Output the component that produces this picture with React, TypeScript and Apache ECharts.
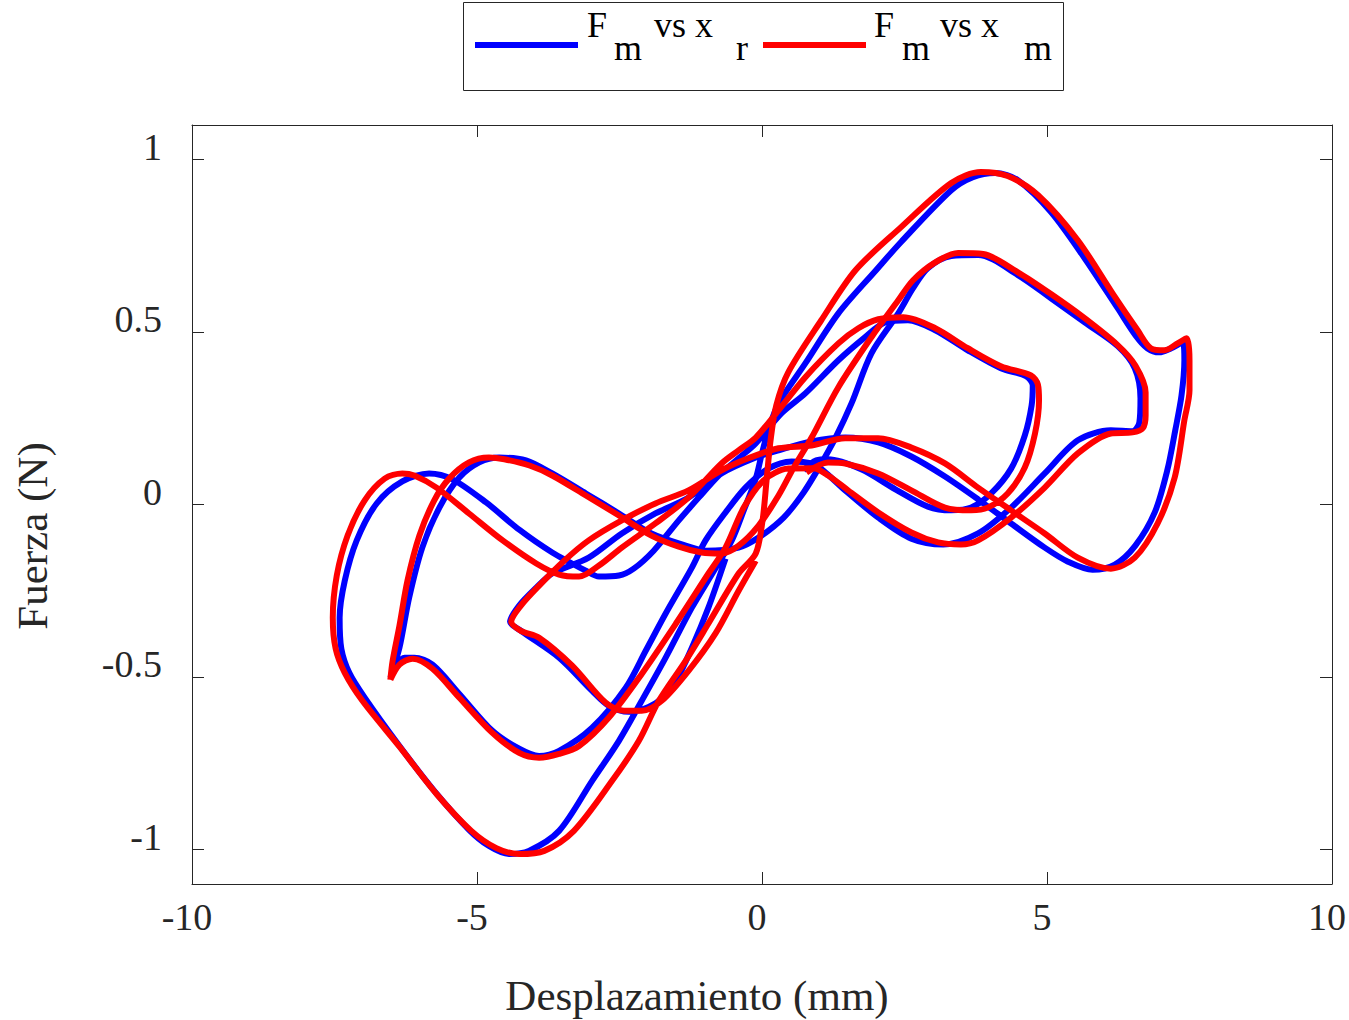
import React, { useEffect, useRef } from "react";
import * as echarts from "echarts";

// Tick values
const xTicks = [-10, -5, 0, 5, 10];
const yTicks = [-1, -0.5, 0, 0.5, 1];

// F_m vs x_r (blue) : main path (small, large cycles)
const blueMain: number[][] = [
  [0.73, 0.099], [0.95, 0.128], [1.16, 0.131], [1.74, 0.102], [2.34, 0.044], [2.91, -0.006],
  [3.32, -0.017], [3.67, -0.009], [4.02, 0.032], [4.37, 0.104], [4.61, 0.2], [4.73, 0.287],
  [4.75, 0.345], [4.63, 0.372], [4.19, 0.395], [3.61, 0.447], [3.04, 0.505], [2.56, 0.534],
  [2.16, 0.528], [1.81, 0.485], [1.34, 0.418], [0.76, 0.322], [0.34, 0.264], [-0.11, 0.177],
  [-0.41, 0.134], [-0.76, 0.084], [-1.11, 0.02], [-1.46, -0.046], [-1.9, -0.134], [-2.25, -0.186],
  [-2.51, -0.206], [-2.86, -0.209], [-3.09, -0.192], [-3.68, -0.139], [-4.26, -0.073], [-4.84, 0.006],
  [-5.43, 0.073], [-5.84, 0.09], [-6.31, 0.067], [-6.76, 0.003], [-7.11, -0.104], [-7.32, -0.221],
  [-7.41, -0.328], [-7.38, -0.418], [-7.24, -0.488], [-6.97, -0.56], [-6.36, -0.7], [-5.75, -0.83],
  [-5.14, -0.943], [-4.79, -0.99], [-4.44, -1.013], [-4.09, -1.004], [-3.56, -0.946], [-2.98, -0.801],
  [-2.51, -0.685], [-2.11, -0.569], [-1.69, -0.444], [-1.23, -0.299], [-0.81, -0.183], [-0.53, -0.104],
  [-0.32, -0.017], [-0.11, 0.075], [-0.01, 0.142], [0.11, 0.215], [0.29, 0.293], [0.76, 0.409],
  [1.34, 0.554], [2.0, 0.679], [2.44, 0.761], [3.32, 0.911], [3.7, 0.949], [4.09, 0.961],
  [4.49, 0.94], [5.07, 0.848], [5.66, 0.714], [6.24, 0.569], [6.55, 0.491], [6.76, 0.453],
  [6.97, 0.441], [7.18, 0.453], [7.38, 0.47], [7.41, 0.418], [7.36, 0.316], [7.25, 0.215],
  [7.11, 0.099], [6.89, -0.023], [6.55, -0.119], [6.19, -0.174], [5.8, -0.189], [5.36, -0.165],
  [4.96, -0.125], [4.37, -0.055], [3.79, 0.015], [3.21, 0.081], [2.62, 0.139], [2.04, 0.18],
  [1.46, 0.194], [0.87, 0.183], [0.29, 0.157], [-0.11, 0.136], [-0.71, 0.09], [-1.29, 0.02],
  [-1.87, -0.026], [-2.46, -0.084], [-3.04, -0.154], [-3.68, -0.2], [-3.96, -0.241], [-4.26, -0.293],
  [-4.42, -0.34], [-4.23, -0.366], [-3.56, -0.444], [-2.98, -0.54], [-2.69, -0.583], [-2.34, -0.601],
  [-2.07, -0.592], [-1.81, -0.569], [-1.51, -0.511], [-1.23, -0.415], [-0.94, -0.299], [-0.64, -0.157],
];

// F_m vs x_r (blue) : medium loop
const blueInner: number[][] = [
  [-6.52, -0.502], [-6.41, -0.464], [-6.27, -0.444], [-6.1, -0.444], [-5.78, -0.464], [-5.31, -0.549],
  [-4.73, -0.656], [-4.26, -0.708], [-3.91, -0.729], [-3.56, -0.714], [-2.98, -0.647], [-2.39, -0.531],
  [-2.04, -0.424], [-1.69, -0.316], [-1.23, -0.183], [-0.99, -0.104], [-0.64, -0.023], [-0.29, 0.049],
  [0.11, 0.104], [0.52, 0.125], [0.87, 0.119], [1.07, 0.099], [1.46, 0.041], [2.04, -0.038],
  [2.62, -0.099], [3.18, -0.116], [3.79, -0.084], [4.37, -0.009], [4.96, 0.09], [5.54, 0.186],
  [6.12, 0.215], [6.5, 0.212], [6.62, 0.238], [6.64, 0.308], [6.54, 0.395], [6.24, 0.459],
  [5.66, 0.528], [5.07, 0.598], [4.49, 0.665], [3.79, 0.723], [3.32, 0.72], [2.91, 0.685],
  [2.65, 0.627], [2.39, 0.554], [1.92, 0.438], [1.57, 0.293], [1.29, 0.194], [1.02, 0.113],
  [0.73, 0.035], [0.38, -0.038], [-0.06, -0.096], [-0.41, -0.125], [-0.99, -0.134], [-1.34, -0.119],
  [-1.94, -0.084], [-2.51, -0.026], [-3.09, 0.032], [-3.68, 0.09], [-4.14, 0.128], [-4.61, 0.136],
  [-4.96, 0.122], [-5.31, 0.078], [-5.66, -0.009], [-5.96, -0.125], [-6.19, -0.27], [-6.36, -0.415],
  [-6.52, -0.502],
];

// F_m vs x_m (red) : main path
const redMain: number[][] = [
  [0.78, 0.093], [1.16, 0.122], [1.46, 0.119], [2.04, 0.09], [2.62, 0.041], [3.21, -0.009],
  [3.67, -0.017], [3.96, -0.009], [4.31, 0.032], [4.61, 0.107], [4.79, 0.206], [4.86, 0.302],
  [4.84, 0.348], [4.72, 0.374], [4.19, 0.401], [3.61, 0.453], [3.04, 0.511], [2.48, 0.543],
  [2.04, 0.537], [1.69, 0.511], [1.34, 0.467], [0.76, 0.369], [0.29, 0.273], [-0.11, 0.194],
  [-0.41, 0.157], [-0.71, 0.119], [-1.29, 0.02], [-1.87, -0.055], [-2.46, -0.125], [-2.86, -0.177],
  [-3.21, -0.209], [-3.56, -0.203], [-3.96, -0.171], [-4.55, -0.104], [-5.14, -0.026], [-5.71, 0.049],
  [-6.1, 0.084], [-6.31, 0.09], [-6.62, 0.075], [-6.97, 0.012], [-7.27, -0.09], [-7.46, -0.206],
  [-7.53, -0.328], [-7.48, -0.418], [-7.32, -0.488], [-7.01, -0.569], [-6.36, -0.702], [-5.71, -0.839],
  [-5.1, -0.946], [-4.66, -0.996], [-4.26, -1.013], [-3.82, -1.004], [-3.3, -0.946], [-2.63, -0.801],
  [-2.16, -0.685], [-1.81, -0.569], [-1.34, -0.453], [-0.94, -0.345], [-0.41, -0.2], [-0.11, -0.142],
  [0.01, -0.046], [0.08, 0.07], [0.15, 0.186], [0.25, 0.287], [0.46, 0.383], [1.04, 0.534],
  [1.64, 0.679], [2.44, 0.804], [3.32, 0.932], [3.84, 0.964], [4.31, 0.952], [4.84, 0.897],
  [5.54, 0.766], [6.15, 0.612], [6.59, 0.505], [6.82, 0.453], [7.06, 0.447], [7.29, 0.467],
  [7.45, 0.482], [7.5, 0.418], [7.5, 0.331], [7.41, 0.244], [7.24, 0.078], [6.94, -0.055],
  [6.54, -0.154], [6.12, -0.186], [5.54, -0.154], [4.96, -0.084], [4.37, -0.017], [3.79, 0.049],
  [3.21, 0.119], [2.62, 0.165], [2.04, 0.192], [1.46, 0.192], [0.87, 0.171], [0.29, 0.163],
  [-0.24, 0.134], [-0.71, 0.099], [-1.29, 0.041], [-1.87, 0.003], [-2.46, -0.046], [-3.04, -0.104],
  [-3.47, -0.163], [-3.91, -0.235], [-4.23, -0.293], [-4.4, -0.34], [-4.23, -0.366], [-3.91, -0.386],
  [-3.33, -0.467], [-2.74, -0.575], [-2.42, -0.598], [-2.11, -0.598], [-1.76, -0.569], [-1.29, -0.482],
  [-0.81, -0.372], [-0.41, -0.25], [-0.11, -0.163],
];

// F_m vs x_m (red) : medium loop
const redInner: number[][] = [
  [-6.52, -0.508], [-6.36, -0.464], [-6.13, -0.447], [-5.78, -0.476], [-5.31, -0.56], [-4.73, -0.662],
  [-4.26, -0.72], [-3.91, -0.734], [-3.56, -0.723], [-3.21, -0.7], [-2.69, -0.618], [-2.11, -0.491],
  [-1.51, -0.345], [-0.94, -0.2], [-0.64, -0.125], [-0.32, -0.009], [0.03, 0.07], [0.46, 0.104],
  [0.9, 0.105], [1.16, 0.084], [1.51, 0.041], [2.04, -0.023], [2.62, -0.081], [3.09, -0.11],
  [3.49, -0.116], [3.79, -0.104], [4.37, -0.038], [4.96, 0.049], [5.54, 0.148], [6.12, 0.206],
  [6.5, 0.209], [6.68, 0.221], [6.73, 0.258], [6.73, 0.325], [6.55, 0.403], [6.24, 0.462],
  [5.66, 0.54], [5.07, 0.61], [4.49, 0.673], [3.88, 0.726], [3.44, 0.729], [3.04, 0.702],
  [2.65, 0.65], [2.39, 0.592], [1.92, 0.485], [1.34, 0.34], [0.87, 0.194], [0.55, 0.105],
  [0.29, 0.026], [-0.06, -0.061], [-0.41, -0.119], [-0.71, -0.142], [-1.06, -0.139], [-1.46, -0.122],
  [-1.94, -0.09], [-2.51, -0.032], [-3.09, 0.026], [-3.68, 0.084], [-4.08, 0.113], [-4.52, 0.131],
  [-4.79, 0.136], [-5.14, 0.122], [-5.49, 0.075], [-5.75, 0.012], [-6.01, -0.09], [-6.22, -0.221],
  [-6.36, -0.351], [-6.48, -0.453], [-6.52, -0.508],
];

const FONT = "'Liberation Serif', 'Times New Roman', serif";
const AXIS = "#262626";
const BLUE = "#0000ff";
const RED = "#ff0000";

export default function App() {
  const ref = useRef<HTMLDivElement>(null);

  useEffect(() => {
    if (!ref.current) return;
    const chart = echarts.init(ref.current, undefined, { renderer: "svg" });

    const axisLine = { show: true, onZero: false, lineStyle: { color: AXIS, width: 1 } };
    const lineSeries = (name: string, data: number[][], color: string, z: number) => ({
      name,
      type: "line",
      data,
      smooth: 0.3,
      showSymbol: false,
      symbol: "none",
      z,
      lineStyle: { color, width: 6, cap: "butt", join: "round" },
      itemStyle: { color },
      emphasis: { disabled: true },
    });

    const legendText = (text: string, x: number, y: number) => ({
      type: "text",
      x,
      y,
      style: {
        text,
        fill: "#000",
        font: `36px ${FONT}`,
        align: "left",
        verticalAlign: "middle",
      },
    });

    chart.setOption({
      animation: false,
      backgroundColor: "#ffffff",
      grid: { left: 192, right: 15, top: 125, bottom: 136, containLabel: false },
      xAxis: [
        {
          type: "value",
          min: -10,
          max: 10,
          interval: 5,
          position: "bottom",
          axisLine,
          axisTick: { show: true, inside: true, length: 12, lineStyle: { color: AXIS } },
          axisLabel: {
            show: true,
            customValues: xTicks,
            fontFamily: FONT,
            fontSize: 38,
            color: AXIS,
            margin: 14,
            padding: [0, 10, 0, 0],
          },
          splitLine: { show: false },
        },
        {
          type: "value",
          min: -10,
          max: 10,
          interval: 5,
          position: "top",
          axisLine,
          axisTick: { show: true, inside: true, length: 12, lineStyle: { color: AXIS } },
          axisLabel: { show: false },
          splitLine: { show: false },
        },
      ],
      yAxis: [
        {
          type: "value",
          min: -1.1,
          max: 1.1,
          position: "left",
          axisLine,
          axisTick: { show: true, inside: true, length: 12, customValues: yTicks, lineStyle: { color: AXIS } },
          axisLabel: {
            show: true,
            customValues: yTicks,
            formatter: (v: number) => `${v}\n `,
            fontFamily: FONT,
            fontSize: 38,
            lineHeight: 26,
            color: AXIS,
            margin: 30,
          },
          splitLine: { show: false },
        },
        {
          type: "value",
          min: -1.1,
          max: 1.1,
          position: "right",
          axisLine,
          axisTick: { show: true, inside: true, length: 12, customValues: yTicks, lineStyle: { color: AXIS } },
          axisLabel: { show: false },
          splitLine: { show: false },
        },
      ],
      series: [
        lineSeries("blueMain", blueMain, BLUE, 2),
        lineSeries("blueInner", blueInner, BLUE, 2),
        lineSeries("redMain", redMain, RED, 3),
        lineSeries("redInner", redInner, RED, 3),
      ],
      graphic: [
        {
          type: "text",
          x: 697,
          y: 995,
          style: {
            text: "Desplazamiento (mm)",
            fill: AXIS,
            font: `43px ${FONT}`,
            align: "center",
            verticalAlign: "middle",
          },
        },
        {
          type: "text",
          x: 32,
          y: 536,
          rotation: Math.PI / 2,
          style: {
            text: "Fuerza (N)",
            fill: AXIS,
            font: `43px ${FONT}`,
            align: "center",
            verticalAlign: "middle",
          },
        },
        {
          type: "rect",
          shape: { x: 463.5, y: 2.5, width: 600, height: 88 },
          style: { fill: "#ffffff", stroke: AXIS, lineWidth: 1 },
        },
        {
          type: "line",
          shape: { x1: 475, y1: 45, x2: 578, y2: 45 },
          style: { stroke: BLUE, lineWidth: 6 },
        },
        {
          type: "line",
          shape: { x1: 763, y1: 45, x2: 866, y2: 45 },
          style: { stroke: RED, lineWidth: 6 },
        },
        legendText("F", 587, 25),
        legendText("m", 614, 48),
        legendText("vs x", 654, 25),
        legendText("r", 736, 48),
        legendText("F", 874, 25),
        legendText("m", 902, 48),
        legendText("vs x", 940, 25),
        legendText("m", 1024, 48),
      ],
    });

    return () => chart.dispose();
  }, []);

  return (
    <div
      ref={ref}
      style={{ position: "fixed", left: 0, top: 0, width: 1349, height: 1020, background: "#fff" }}
    />
  );
}
